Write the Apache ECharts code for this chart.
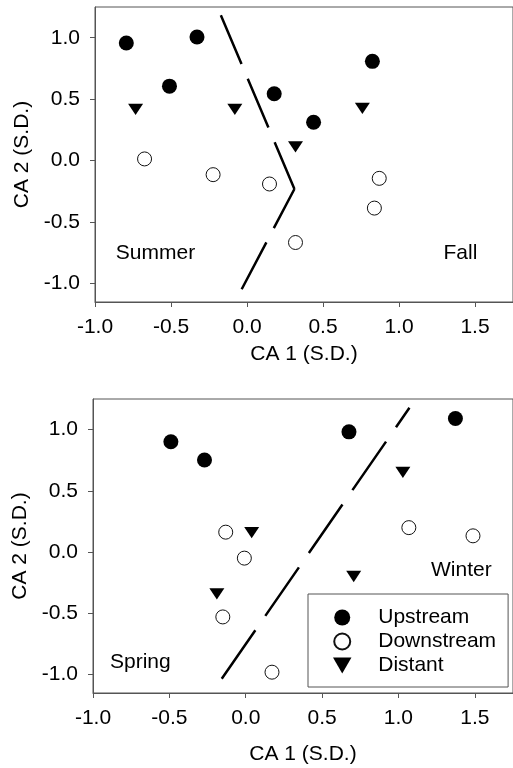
<!DOCTYPE html>
<html>
<head>
<meta charset="utf-8">
<script src="https://cdn.jsdelivr.net/npm/echarts@6/dist/echarts.min.js"></script>
<style>
html,body{margin:0;padding:0;background:#fff;}
#chart{width:513px;height:768px;}
</style>
</head>
<body>
<div id="chart"></div>
<script>
// ---- tick values ----
const xTicks = [-1.0, -0.5, 0.0, 0.5, 1.0, 1.5];
const yTicks = [-1.0, -0.5, 0.0, 0.5, 1.0];
const seriesNames = ['Upstream', 'Downstream', 'Distant'];

// ---- top panel (Summer / Fall) ----
const topUpstream = [[-0.794, 0.957], [-0.329, 1.006], [-0.510, 0.606], [0.179, 0.544], [0.438, 0.312], [0.825, 0.808]];
const topDownstream = [[-0.674, 0.014], [-0.223, -0.114], [0.148, -0.190], [0.870, -0.144], [0.838, -0.386], [0.319, -0.666]];
const topDistant = [[-0.733, 0.418], [-0.080, 0.418], [0.319, 0.112], [0.759, 0.425]];
const topBoundaryUpper = [[-0.172, 1.183], [0.312, -0.231]];
const topBoundaryLower = [[-0.035, -1.046], [0.312, -0.231]];
const topRegionLabels = [[-0.602, -0.75, 'Summer'], [1.404, -0.75, 'Fall']];

// ---- bottom panel (Spring / Winter) ----
const botUpstream = [[-0.490, 0.901], [-0.270, 0.752], [0.676, 0.982], [1.373, 1.091]];
const botDownstream = [[-0.131, 0.163], [-0.009, -0.049], [-0.150, -0.529], [0.172, -0.980], [1.068, 0.200], [1.488, 0.133]];
const botDistant = [[0.039, 0.160], [-0.189, -0.340], [0.707, -0.199], [1.029, 0.651]];
const botBoundary = [[-0.157, -1.034], [1.072, 1.178]];
const botRegionLabels = [[-0.69, -0.897, 'Spring'], [1.412, -0.144, 'Winter']];

const FONT = '"Liberation Sans", Arial, sans-serif';
const FS = 21;
const AXIS_COLOR = '#555';
const triPath = 'path://M0,0L15,0L7.5,13Z';

function xAxisCfg(gridIndex, nameGap) {
  return {
    type: 'value', gridIndex, min: -1.0, max: 1.75,
    name: 'CA 1 (S.D.)', nameLocation: 'middle', nameGap,
    nameTextStyle: {fontFamily: FONT, fontSize: FS, color: '#000'},
    axisLine: {show: true, onZero: false, lineStyle: {color: AXIS_COLOR, width: 1}},
    axisTick: {show: true, inside: false, length: 5, customValues: xTicks, lineStyle: {color: AXIS_COLOR}},
    axisLabel: {show: true, margin: 15, customValues: xTicks, fontFamily: FONT, fontSize: FS, color: '#000',
      formatter: v => v.toFixed(1)},
    splitLine: {show: false}
  };
}
function yAxisCfg(gridIndex) {
  return {
    type: 'value', gridIndex, min: -1.15, max: 1.25,
    name: 'CA 2 (S.D.)', nameLocation: 'middle', nameGap: 56, nameRotate: 90,
    nameTextStyle: {fontFamily: FONT, fontSize: FS, color: '#000'},
    axisLine: {show: true, onZero: false, lineStyle: {color: AXIS_COLOR, width: 1}},
    axisTick: {show: true, inside: false, length: 5, customValues: yTicks, lineStyle: {color: AXIS_COLOR}},
    axisLabel: {show: true, margin: 15, customValues: yTicks, fontFamily: FONT, fontSize: FS, color: '#000',
      formatter: v => v.toFixed(1)},
    splitLine: {show: false}
  };
}
function pointSeries(idx, up, down, dist) {
  return [
    {name: seriesNames[0], type: 'scatter', xAxisIndex: idx, yAxisIndex: idx, data: up,
      symbol: 'circle', symbolSize: 15, itemStyle: {color: '#000', opacity: 1}, z: 5},
    {name: seriesNames[1], type: 'scatter', xAxisIndex: idx, yAxisIndex: idx, data: down,
      symbol: 'circle', symbolSize: 14, itemStyle: {color: '#fff', borderColor: '#111', borderWidth: 1, opacity: 1}, z: 5},
    {name: seriesNames[2], type: 'scatter', xAxisIndex: idx, yAxisIndex: idx, data: dist,
      symbol: triPath, symbolSize: [15, 13], symbolKeepAspect: true, itemStyle: {color: '#000', opacity: 1}, z: 5}
  ];
}
function boundarySeries(idx, data, dash) {
  return {type: 'line', xAxisIndex: idx, yAxisIndex: idx, data, showSymbol: false, symbol: 'none',
    silent: true, animation: false, z: 3,
    lineStyle: {color: '#000', width: 2.5, type: dash, cap: 'butt'}};
}
function labelSeries(idx, data) {
  return {type: 'scatter', xAxisIndex: idx, yAxisIndex: idx, data, symbolSize: 0.1, silent: true,
    itemStyle: {color: 'rgba(0,0,0,0)'},
    label: {show: true, position: 'inside', formatter: p => p.data[2], fontFamily: FONT, fontSize: FS,
      color: '#000', opacity: 1, textBorderWidth: 0, textBorderColor: 'transparent'}};
}

const chart = echarts.init(document.getElementById('chart'), null, {renderer: 'canvas'});
chart.setOption({
  animation: false,
  backgroundColor: '#fff',
  grid: [
    {left: 95, top: 7, width: 420, height: 295, show: true, borderColor: AXIS_COLOR, borderWidth: 1, backgroundColor: 'transparent'},
    {left: 93, top: 399, width: 421, height: 294, show: true, borderColor: AXIS_COLOR, borderWidth: 1, backgroundColor: 'transparent'}
  ],
  xAxis: [xAxisCfg(0, 42), xAxisCfg(1, 51)],
  yAxis: [yAxisCfg(0), yAxisCfg(1)],
  legend: {
    data: seriesNames, orient: 'vertical', left: 308, top: 594,
    padding: [13, 12, 11, 25], itemGap: 3, itemWidth: 62, itemHeight: 16,
    borderColor: '#555', borderWidth: 1, backgroundColor: '#fff',
    textStyle: {fontFamily: FONT, fontSize: FS, color: '#000', lineHeight: 21},
    selectedMode: false
  },
  series: [
    boundarySeries(0, topBoundaryUpper, [53, 16]),
    boundarySeries(0, topBoundaryLower, [53, 16]),
    ...pointSeries(0, topUpstream, topDownstream, topDistant),
    labelSeries(0, topRegionLabels),
    boundarySeries(1, botBoundary, [59, 17.5]),
    ...pointSeries(1, botUpstream, botDownstream, botDistant),
    labelSeries(1, botRegionLabels)
  ]
});
</script>
</body>
</html>
